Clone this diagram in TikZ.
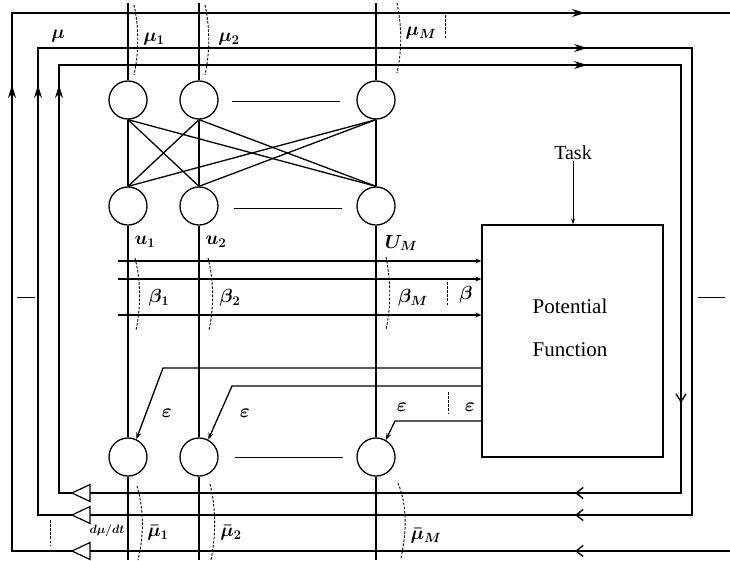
\RequirePackage{fix-cm}
\documentclass[tikz,border=0pt]{standalone}
\usepackage{fontspec}
\setmainfont{Liberation Serif}
\usetikzlibrary{arrows.meta,decorations.markings}

\tikzset{
  wire/.style={line width=1.3pt},
  colwire/.style={line width=1.25pt},
  neuron/.style={circle,draw,line width=1.3pt,minimum size=38pt,inner sep=0pt},
  cut/.style={dash pattern=on 2.5pt off 1.6pt,line width=0.9pt},
  lbl/.style={font=\fontsize{19}{19}\selectfont\boldmath,inner sep=0pt},
  marks/.style={postaction={decorate},decoration={markings,#1}},
  buffer/.style={line width=1.2pt,fill=white},
}

\begin{document}
\begin{tikzpicture}[x=1pt,y=-1pt,line join=miter]
\fill[white] (0,0) rectangle (730,560);
\useasboundingbox (0,0) rectangle (730,560);

% ---- neuron layers ----
\node[neuron] (t1) at (128,100) {};
\node[neuron] (t2) at (199,100) {};
\node[neuron] (t3) at (376,100) {};
\node[neuron] (m1) at (128,206) {};
\node[neuron] (m2) at (199,206) {};
\node[neuron] (m3) at (376,206) {};
\node[neuron] (b1) at (128,457) {};
\node[neuron] (b2) at (199,457) {};
\node[neuron] (b3) at (376,457) {};

% ellipsis bars between the second and last unit of each layer
\draw[line width=1pt] (232,101) -- (340,101);
\draw[line width=1pt] (234,208) -- (342,208);
\draw[line width=1pt] (235,457) -- (343,457);

% full connections between the two upper layers
\foreach \i in {1,2,3}
  \foreach \j in {1,2,3}
    \draw[wire] (t\i.south) -- (m\j.north);

% column wires
\coordinate (c1t) at (128,3);
\coordinate (c2t) at (199,3);
\coordinate (c3t) at (376,3);
\coordinate (c1b) at (128,560);
\coordinate (c2b) at (199,560);
\coordinate (c3b) at (376,560);
\foreach \k in {1,2,3} {
  \draw[colwire] (c\k t) -- (t\k);
  \draw[colwire] (m\k) -- (b\k);
  \draw[colwire] (b\k) -- (c\k b);
}

% ---- potential function block ----
\node[draw,line width=1.3pt,minimum width=181pt,minimum height=232pt,inner sep=0pt] (box) at (572.5,341) {};
\node[font=\fontsize{21}{21}\selectfont] (ptxt) at (570,306) {Potential};
\node[font=\fontsize{21}{21}\selectfont] (ftxt) at (570,350) {Function};
\node[font=\fontsize{20}{20}\selectfont,inner sep=1pt] (task) at (573,153) {Task};
\draw[line width=1pt,-{Stealth[length=6pt,width=4pt]}] (task) -- (task |- box.north);

% ---- outer feedback loops ----
\coordinate (A0) at (730,13);  \coordinate (A1) at (12,13);
\coordinate (A2) at (12,551);  \coordinate (A3) at (730,551);
\coordinate (TA) at (72,551);  \coordinate (BA) at (90,551);

\coordinate (B0) at (692,48);  \coordinate (B1) at (38,48);
\coordinate (B2) at (38,515);  \coordinate (B3) at (692,515);
\coordinate (TB) at (72,515);  \coordinate (BB) at (90,515);

\coordinate (C0) at (681,65);  \coordinate (C1) at (59,65);
\coordinate (C2) at (59,493);  \coordinate (C3) at (681,493);
\coordinate (TC) at (72,493);  \coordinate (BC) at (90,493);

\draw[wire,marks={
    mark=at position 526pt with {\arrow{Stealth[length=13pt,width=8pt]}},
    mark=at position 1171pt with {\arrow{Stealth[length=13pt,width=8pt]}}}]
  (TA) -- (A2) -- (A1) -- (A0);
\draw[wire,marks={
    mark=at position 155pt with {\arrow{Straight Barb[length=7pt,width=11pt,line width=1.4pt]}}}]
  (A3) -- (BA);

\draw[wire,marks={
    mark=at position 464pt with {\arrow{Stealth[length=13pt,width=8pt]}},
    mark=at position 1050pt with {\arrow{Stealth[length=13pt,width=8pt]}},
    mark=at position 1739pt with {\arrow{Straight Barb[length=7pt,width=11pt,line width=1.4pt]}}}]
  (TB) -- (B2) -- (B1) -- (B0) -- (B3) -- (BB);

\draw[wire,marks={
    mark=at position 421pt with {\arrow{Stealth[length=13pt,width=8pt]}},
    mark=at position 969pt with {\arrow{Stealth[length=13pt,width=8pt]}},
    mark=at position 1401pt with {\arrow{Straight Barb[length=8pt,width=10pt,line width=1.3pt]}},
    mark=at position 1597pt with {\arrow{Straight Barb[length=7pt,width=11pt,line width=1.4pt]}}}]
  (TC) -- (C2) -- (C1) -- (C0) -- (C3) -- (BC);

% buffer triangles on the returning lines
\foreach \t in {TA,TB,TC}
  \draw[buffer] (\t) -- ++(18,-8.5) -- ++(0,17) -- cycle;

% ---- signals into the potential function ----
\coordinate (L1) at (118,261);
\coordinate (L2) at (118,279);
\coordinate (L3) at (118,315);
\foreach \l in {L1,L2,L3}
  \draw[wire,-{Stealth[length=6pt,width=5pt]}] (\l) -- (\l -| box.west);

% ---- error signals back to the lower layer ----
\coordinate (E1) at (163,368);
\coordinate (E2) at (232,386);
\coordinate (E3) at (395,421);
\draw[wire,-{Stealth[length=7pt,width=5pt]}] (box.west |- E1) -- (E1) -- (b1.65);
\draw[wire,-{Stealth[length=7pt,width=5pt]}] (box.west |- E2) -- (E2) -- (b2.62);
\draw[wire,-{Stealth[length=7pt,width=5pt]}] (box.west |- E3) -- (E3) -- (b3.60);

% ---- bundle cut marks ----
\draw[cut] (134,5) .. controls (139,28) and (139,52) .. (134,75);
\draw[cut] (205,5) .. controls (210,28) and (210,52) .. (205,75);
\draw[cut] (397,3) .. controls (402,28) and (402,50) .. (397,73);
\draw[cut] (135,258) .. controls (141,282) and (141,306) .. (136,330);
\draw[cut] (208,258) .. controls (214,282) and (214,306) .. (209,330);
\draw[cut] (386,257) .. controls (391,282) and (391,306) .. (386,330);
\draw[cut] (137,486) .. controls (144,510) and (144,535) .. (138,560);
\draw[cut] (210,484) .. controls (216,508) and (216,535) .. (211,560);
\draw[cut] (398,483) .. controls (407,505) and (407,530) .. (401,558);

\draw[cut] (445,15) -- (445,38);
\draw[cut] (447,282) -- (447,306);
\draw[cut] (448,392) -- (448,414);
\draw[cut] (50,520) -- (50,545);

% side ticks
\draw[line width=1pt] (17,297) -- (35,297);
\draw[line width=1pt] (698,297) -- (725,297);

% ---- labels ----
\node[lbl] (lmu)  at (58,36)  {$\mu$};
\node[lbl] (lmu1) at (154,39) {$\mu_1$};
\node[lbl] (lmu2) at (229,39) {$\mu_2$};
\node[lbl] (lmuM) at (421,33) {$\mu_M$};

\node[lbl] (lu1) at (145,242) {$u_1$};
\node[lbl] (lu2) at (216,242) {$u_2$};
\node[lbl] (luM) at (401,243) {$U_M$};

\node[lbl] (lb1) at (159,298) {$\beta_1$};
\node[lbl] (lb2) at (230,298) {$\beta_2$};
\node[lbl] (lbM) at (413,298) {$\beta_M$};
\node[lbl] (lb)  at (466,295) {$\beta$};

\node[lbl] (le1) at (167,413) {$\varepsilon$};
\node[lbl] (le2) at (245,413) {$\varepsilon$};
\node[lbl] (le3) at (402,407) {$\varepsilon$};
\node[lbl] (le)  at (470,407) {$\varepsilon$};

\node[lbl,font=\fontsize{12}{12}\selectfont\boldmath] (ldmu) at (107,530) {$d\mu/dt$};
\node[lbl] (lbar1) at (158,533) {$\bar{\mu}_1$};
\node[lbl] (lbar2) at (231,533) {$\bar{\mu}_2$};
\node[lbl] (lbarM) at (426,536) {$\bar{\mu}_M$};
\end{tikzpicture}
\end{document}
